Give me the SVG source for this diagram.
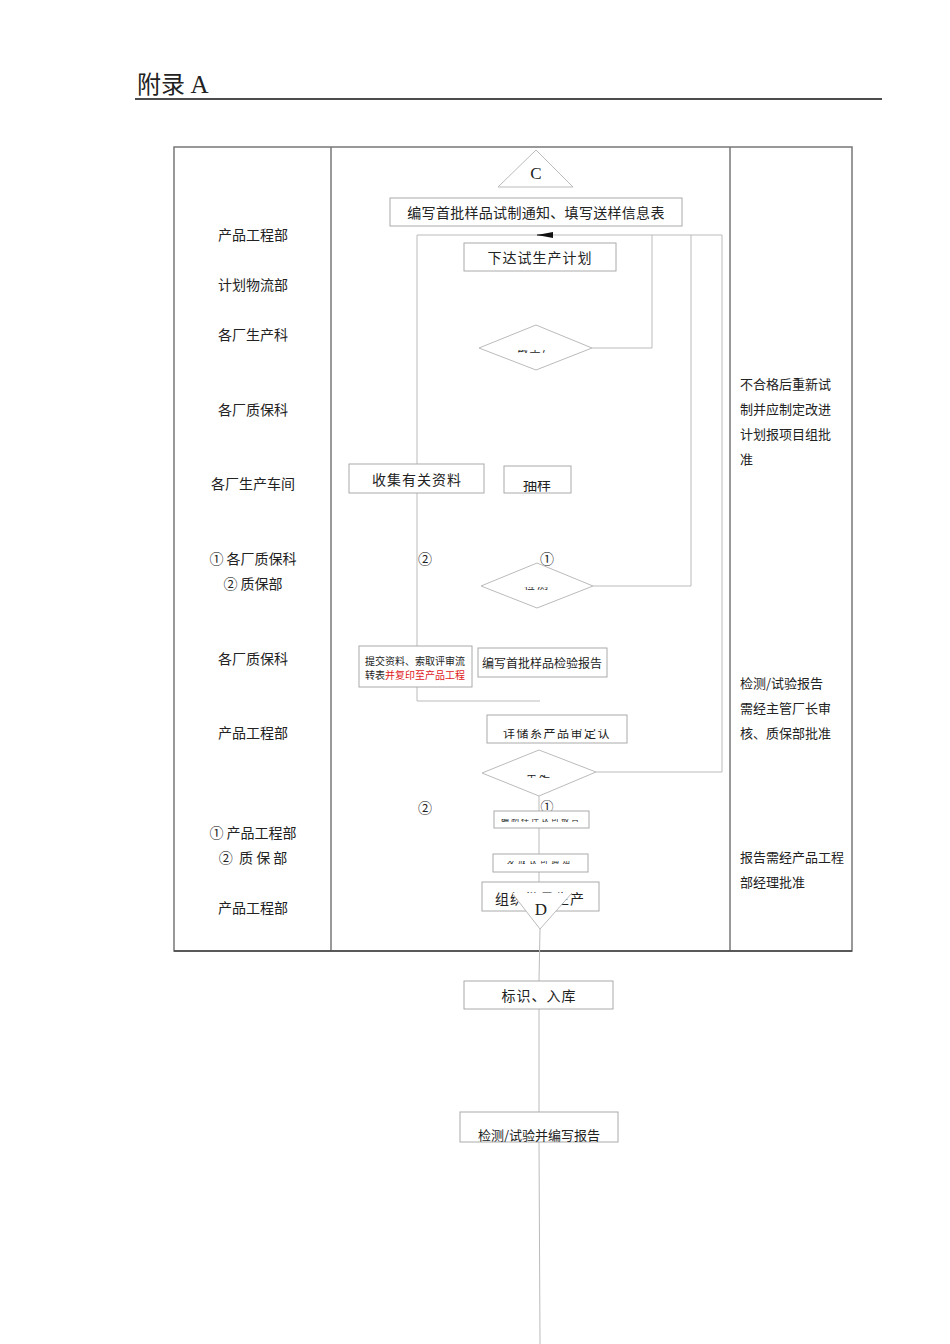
<svg xmlns="http://www.w3.org/2000/svg" width="950" height="1344" viewBox="0 0 950 1344">
<style>
text{font-family:"Noto Sans CJK SC","Liberation Serif",sans-serif;fill:#222}
.lane{font-size:14px;text-anchor:middle}
.note{font-size:13px}
.box{fill:#fff;stroke:#aaa;stroke-width:1}
.dia{fill:#fff;stroke:#bbb;stroke-width:1}
.ln{fill:none;stroke:#bbb;stroke-width:1}
.nt{font-size:14px;text-anchor:middle}
.ser{font-family:"Liberation Serif",serif}
</style>
<defs>
<clipPath id="c1"><rect x="487" y="729" width="140" height="14"/></clipPath>
<clipPath id="c2"><rect x="504" y="481" width="67" height="12"/></clipPath>
<clipPath id="c3"><rect x="460" y="1129" width="158" height="13"/></clipPath>
<clipPath id="c4"><rect x="494" y="819" width="95" height="3"/></clipPath>
<clipPath id="c5"><rect x="493" y="861" width="95" height="3"/></clipPath>
<clipPath id="c6"><rect x="500" y="350" width="80" height="3"/></clipPath>
<clipPath id="c7"><rect x="500" y="587" width="80" height="3"/></clipPath>
<clipPath id="c8"><rect x="500" y="775" width="80" height="3"/></clipPath>
</defs>

<g id="header">
<text x="137" y="93" font-size="24" font-family="Noto Sans CJK SC,sans-serif">附录 <tspan class="ser" font-size="25">A</tspan></text>
<line x1="135" y1="99" x2="882" y2="99" stroke="#111" stroke-width="1.6"/>
</g>

<g id="table" fill="none" stroke="#777" stroke-width="1.5">
<rect x="174" y="147" width="678" height="804"/>
<line x1="331" y1="147" x2="331" y2="951"/>
<line x1="730" y1="147" x2="730" y2="951"/>
<line x1="174" y1="951" x2="852" y2="951" stroke="#444"/>
</g>

<g id="lanes">
<text class="lane" x="253" y="240">产品工程部</text>
<text class="lane" x="253" y="290">计划物流部</text>
<text class="lane" x="253" y="340">各厂生产科</text>
<text class="lane" x="253" y="415">各厂质保科</text>
<text class="lane" x="253" y="489">各厂生产车间</text>
<text class="lane" x="253" y="564">① 各厂质保科</text>
<text class="lane" x="253" y="589">② 质保部</text>
<text class="lane" x="253" y="664">各厂质保科</text>
<text class="lane" x="253" y="738">产品工程部</text>
<text class="lane" x="253" y="838">① 产品工程部</text>
<text class="lane" x="253" y="863" xml:space="preserve">②  质 保 部</text>
<text class="lane" x="253" y="913">产品工程部</text>
</g>

<g id="notes">
<text class="note" x="740" y="389">不合格后重新试</text>
<text class="note" x="740" y="414">制并应制定改进</text>
<text class="note" x="740" y="439">计划报项目组批</text>
<text class="note" x="740" y="464">准</text>
<text class="note" x="740" y="688">检测/试验报告</text>
<text class="note" x="740" y="713">需经主管厂长审</text>
<text class="note" x="740" y="738">核、质保部批准</text>
<text class="note" x="740" y="862" font-size="12">报告需经产品工程</text>
<text class="note" x="740" y="887" font-size="12">部经理批准</text>
</g>

<g id="connectors">
<line class="ln" x1="417" y1="235" x2="722" y2="235"/>
<line x1="537" y1="235" x2="553" y2="235" stroke="#111" stroke-width="1"/>
<polygon points="537,235 553,232 553,238" fill="#111"/>
<polyline class="ln" points="417,235 417,701 540,701"/>
<polyline class="ln" points="592,348 652,348 652,235"/>
<polyline class="ln" points="593,586 691,586 691,235"/>
<polyline class="ln" points="596,772 722,772 722,235"/>
<line class="ln" x1="539" y1="796" x2="539" y2="811"/>
<line class="ln" x1="539" y1="828" x2="539" y2="854"/>
<line class="ln" x1="539" y1="872" x2="539" y2="882"/>
<line class="ln" x1="540" y1="929" x2="539" y2="981"/>
<line class="ln" x1="539" y1="1009" x2="539" y2="1112"/>
<line class="ln" x1="539" y1="1142" x2="540" y2="1344"/>
</g>

<g id="nodeC">
<polygon points="498,187 573,187 536,150" class="dia"/>
<text x="536" y="179" font-size="17" text-anchor="middle" class="ser">C</text>
</g>

<g id="n1">
<rect class="box" x="390" y="198" width="292" height="28"/>
<text class="nt" x="536" y="218" letter-spacing="0.3">编写首批样品试制通知、填写送样信息表</text>
</g>

<g id="n2">
<rect class="box" x="464" y="243" width="152" height="28"/>
<text class="nt" x="540" y="263" letter-spacing="1">下达试生产计划</text>
</g>

<g id="d1">
<polygon class="dia" points="479,348 536,325 592,348 536,370"/>
<text x="536" y="352" font-size="11" text-anchor="middle" letter-spacing="2" clip-path="url(#c6)">试生产</text>
</g>

<g id="n3">
<rect class="box" x="349" y="464" width="135" height="29"/>
<text class="nt" x="417" y="485" letter-spacing="1">收集有关资料</text>
</g>

<g id="n4">
<rect class="box" x="504" y="466" width="67" height="27"/>
<text class="nt" x="537" y="490" font-size="13" clip-path="url(#c2)">抽样</text>
</g>

<g id="labels1">
<text x="425" y="564" font-size="14" text-anchor="middle">②</text>
<text x="547" y="564" font-size="14" text-anchor="middle">①</text>
</g>

<g id="d2">
<polygon class="dia" points="481,586 537,563 593,586 537,608"/>
<text x="537" y="589" font-size="11" text-anchor="middle" letter-spacing="2" clip-path="url(#c7)">检测</text>
</g>

<g id="n5">
<rect class="box" x="359" y="646" width="113" height="41"/>
<text x="415" y="665" font-size="10" text-anchor="middle">提交资料、索取评审流</text>
<text x="415" y="679" font-size="10" text-anchor="middle">转表<tspan fill="#e0201b">并复印至产品工程</tspan></text>
</g>

<g id="n6">
<rect class="box" x="478" y="648" width="129" height="29"/>
<text x="542" y="668" font-size="12" text-anchor="middle">编写首批样品检验报告</text>
</g>

<g id="n7">
<rect class="box" x="487" y="715" width="140" height="28"/>
<text x="557" y="738" font-size="12" text-anchor="middle" letter-spacing="1.5" clip-path="url(#c1)">详储系产品审定认</text>
</g>

<g id="d3">
<polygon class="dia" points="482,773 539,750 596,772 539,796"/>
<text x="539" y="777" font-size="11" text-anchor="middle" letter-spacing="2" clip-path="url(#c8)">审定</text>
</g>

<g id="labels2">
<text x="425" y="813" font-size="14" text-anchor="middle">②</text>
<text x="547" y="811" font-size="13" text-anchor="middle">①</text>
</g>

<g id="n8">
<rect class="box" x="494" y="811" width="95" height="17"/>
<text x="541" y="822" font-size="8" text-anchor="middle" letter-spacing="2" clip-path="url(#c4)">编制样件认可报告</text>
</g>

<g id="n9">
<rect class="box" x="493" y="854" width="95" height="18"/>
<text x="540" y="864" font-size="8" text-anchor="middle" letter-spacing="3" clip-path="url(#c5)">发放认可通知</text>
</g>

<g id="n10">
<rect class="box" x="482" y="882" width="117" height="29"/>
<text class="nt" x="540" y="904" letter-spacing="1">组织批量生产</text>
</g>

<g id="nodeD">
<polygon points="512,893 572,893 540,929" fill="#fff" stroke="none"/>
<polyline points="512,893 540,929 572,893" fill="none" stroke="#bbb" stroke-width="1"/>
<text x="541" y="915" font-size="17" text-anchor="middle" class="ser">D</text>
</g>

<g id="n11">
<rect class="box" x="464" y="981" width="149" height="28"/>
<text class="nt" x="539" y="1001" letter-spacing="1">标识、入库</text>
</g>

<g id="n12">
<rect class="box" x="460" y="1112" width="158" height="30"/>
<text x="539" y="1140" font-size="13" text-anchor="middle" clip-path="url(#c3)">检测/试验并编写报告</text>
</g>
</svg>
